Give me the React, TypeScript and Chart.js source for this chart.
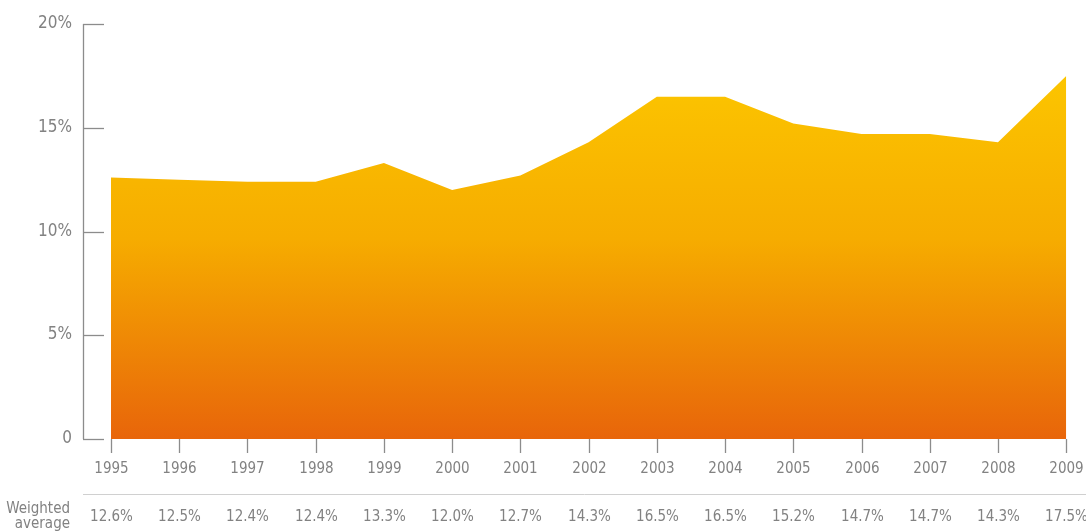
import React, { useEffect, useRef } from "react";
import { Chart, registerables } from "chart.js";

Chart.register(...registerables);

const years: number[] = [1995, 1996, 1997, 1998, 1999, 2000, 2001, 2002, 2003, 2004, 2005, 2006, 2007, 2008, 2009];
const weightedAverage: number[] = [12.6, 12.5, 12.4, 12.4, 13.3, 12.0, 12.7, 14.3, 16.5, 16.5, 15.2, 14.7, 14.7, 14.3, 17.5];
const yTicks: number[] = [0, 5, 10, 15, 20];
const rowLabel: string[] = ["Weighted", "average"];

const FONT = '"Liberation Sans Narrow", "Arial Narrow", "DejaVu Sans Condensed", sans-serif';
const TEXT = "#828282";
const AXIS = "#8c8c8c";

const axesPlugin = {
  id: "customAxes",
  afterDraw(chart: any) {
    const { ctx, chartArea, scales } = chart;
    const xs = scales.x;
    const ys = scales.y;
    const left = chartArea.left;
    ctx.save();
    ctx.strokeStyle = AXIS;
    ctx.lineWidth = 1.3;
    ctx.beginPath();
    ctx.moveTo(left + 0.5, ys.getPixelForValue(20));
    ctx.lineTo(left + 0.5, ys.getPixelForValue(0));
    ctx.stroke();
    ctx.font = `17px ${FONT}`;
    ctx.fillStyle = TEXT;
    ctx.textAlign = "right";
    ctx.textBaseline = "middle";
    yTicks.forEach((v) => {
      const y = Math.round(ys.getPixelForValue(v)) + 0.5;
      ctx.beginPath();
      ctx.moveTo(left, y);
      ctx.lineTo(left + 21, y);
      ctx.stroke();
      ctx.fillText(v === 0 ? "0" : `${v}%`, left - 11, y - 1);
    });
    const y0 = ys.getPixelForValue(0);
    ctx.font = `15px ${FONT}`;
    ctx.textAlign = "center";
    ctx.textBaseline = "middle";
    years.forEach((yr, i) => {
      const x = Math.round(xs.getPixelForValue(yr)) + 0.5;
      ctx.beginPath();
      ctx.moveTo(x, y0);
      ctx.lineTo(x, y0 + 14);
      ctx.stroke();
      ctx.fillText(String(yr), x, y0 + 30);
      ctx.fillText(`${weightedAverage[i].toFixed(1)}%`, x, y0 + 78);
    });
    ctx.strokeStyle = "#d0d0d0";
    ctx.lineWidth = 1;
    ctx.beginPath();
    ctx.moveTo(left, y0 + 55.5);
    ctx.lineTo(chart.width, y0 + 55.5);
    ctx.stroke();
    ctx.textAlign = "right";
    ctx.fillText(rowLabel[0], left - 13, y0 + 70);
    ctx.fillText(rowLabel[1], left - 13, y0 + 85);
    ctx.restore();
  },
};

export default function App() {
  const ref = useRef<HTMLCanvasElement | null>(null);
  useEffect(() => {
    if (!ref.current) return;
    const chart = new Chart(ref.current, {
      type: "line",
      data: {
        datasets: [
          {
            data: years.map((y, i) => ({ x: y, y: weightedAverage[i] })),
            fill: "origin",
            borderWidth: 0,
            pointRadius: 0,
            tension: 0,
            backgroundColor: (ctx: any) => {
              const area = ctx.chart.chartArea;
              if (!area) return "#f5a800";
              const ys = ctx.chart.scales.y;
              const g = ctx.chart.ctx.createLinearGradient(0, ys.getPixelForValue(17.5), 0, ys.getPixelForValue(0));
              g.addColorStop(0, "#fcc500");
              g.addColorStop(0.45, "#f6ac00");
              g.addColorStop(1, "#e8650a");
              return g;
            },
          },
        ],
      },
      options: {
        animation: false,
        responsive: false,
        maintainAspectRatio: false,
        layout: { padding: { left: 83, right: 0, top: 24, bottom: 92 } },
        plugins: { legend: { display: false }, tooltip: { enabled: false } },
        scales: {
          x: { type: "linear", display: false, min: 1994.59, max: 2009.29 },
          y: { type: "linear", display: false, min: 0, max: 20 },
        },
      },
      plugins: [axesPlugin],
    });
    return () => chart.destroy();
  }, []);
  return (
    <div style={{ position: "fixed", left: 0, top: 0, width: 1086, height: 531, background: "#fff" }}>
      <canvas ref={ref} width={1086} height={531} style={{ display: "block" }} />
    </div>
  );
}
